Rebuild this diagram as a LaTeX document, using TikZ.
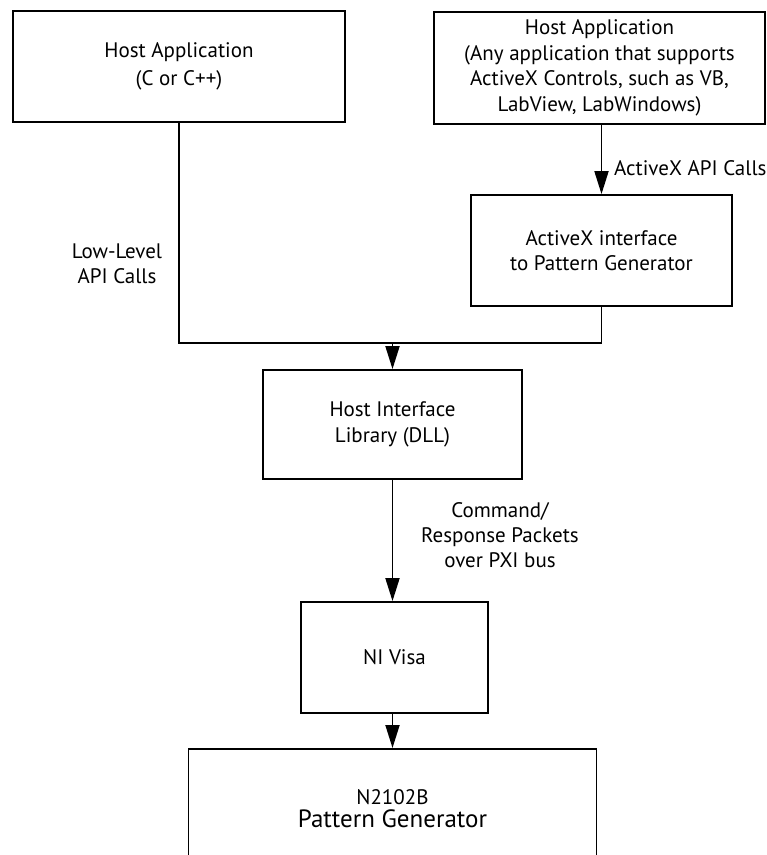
\documentclass[tikz,border=0pt]{standalone}
\usepackage{fontspec}
\setmainfont{PT Sans}
\usetikzlibrary{arrows.meta}

\begin{document}
    \begin{tikzpicture}[x=1pt,y=-1pt,
        box/.style={draw,line width=1.8pt,align=center,font=\fontsize{21}{25.5}\selectfont},
        lbl/.style={align=center,inner sep=0pt,font=\fontsize{21}{25}\selectfont},
        flow/.style={line width=1.8pt,-{Triangle[length=23pt,width=14pt]}}]
        \useasboundingbox (0,0) rectangle (767,855);
        \node (H1) [box,minimum width=332pt,minimum height=111pt] at (179,66.5) {Host Application\\[2pt](C or C++)};
        \node (H2) [box,minimum width=331pt,minimum height=112pt] at (599.5,68) {Host Application\\(Any application that supports\\ActiveX Controls, such as VB,\\LabView, LabWindows)};
        \node (AX) [box,minimum width=261pt,minimum height=111pt] at (601.5,250.5) {ActiveX interface\\to Pattern Generator};
        \node (HIL) [box,minimum width=259pt,minimum height=109pt] at (392.5,424.5) {Host Interface\\Library (DLL)};
        \node (NV) [box,minimum width=187pt,minimum height=111pt] at (394.5,657.5) {NI Visa};
        \node (PG) [box,anchor=north,minimum width=408pt,minimum height=120pt] at (392.5,748) {N2102B\\[-3pt]{\fontsize{25}{28}\selectfont Pattern Generator}};
        \coordinate (J) at (HIL.north |- 0,343);
        \node (L1) [lbl] at (117,264) {Low-Level\\API Calls};
        \node (L2) [lbl,anchor=west] at (614,168) {ActiveX API Calls};
        \node (L3) [lbl] at (500,535) {Command/\\Response Packets\\over PXI bus};
        \draw [line width=1.8pt] (H1.south) |- (J);
        \draw [line width=1.8pt] (AX.south) |- (J);
        \draw [flow] (J) -- (HIL.north);
        \draw [flow] (H2.south -| AX.north) -- (AX.north);
        \draw [flow] (HIL.south) -- (NV.north -| HIL.south);
        \draw [flow] (NV.south -| HIL.south) -- (PG.north);
    \end{tikzpicture}
\end{document}
